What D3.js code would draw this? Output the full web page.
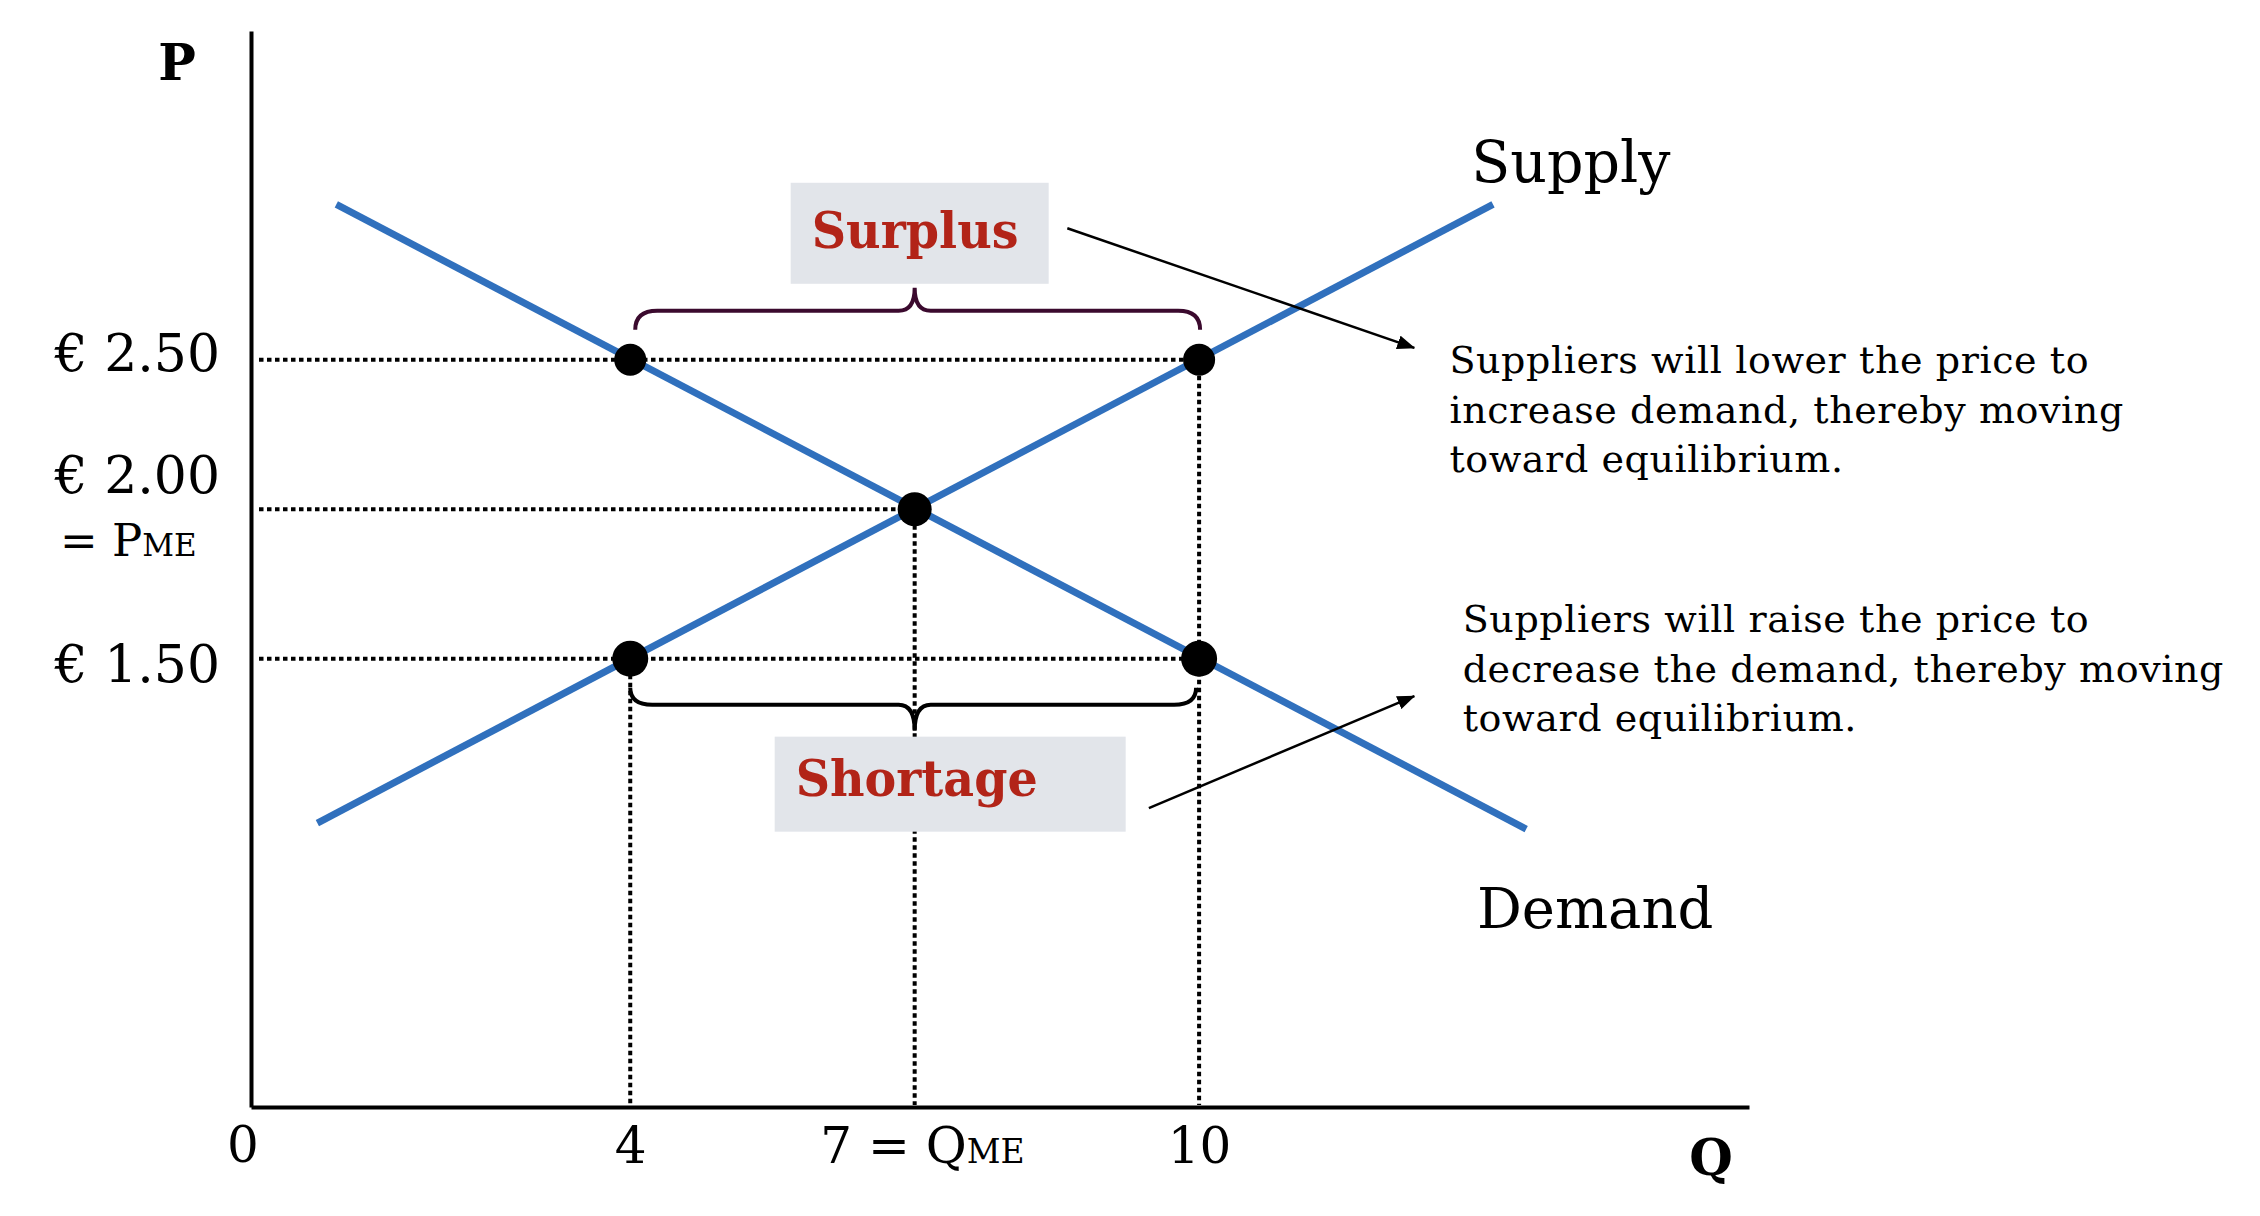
<!DOCTYPE html>
<html>
<head>
<meta charset="utf-8">
<script src="https://cdn.jsdelivr.net/npm/d3@7"></script>
<style>
  body { margin: 0; background: #fff; }
  svg { display: block; font-family: "DejaVu Serif", serif; }
  .guide { stroke: #000; stroke-width: 4; stroke-dasharray: 4.5 3.5; fill: none; }
  .curve { stroke: #3070bd; stroke-width: 7; fill: none; }
  .axis path { stroke: #000; stroke-width: 4; }
  .axis text { font-family: "DejaVu Serif", serif; fill: #000; }
</style>
</head>
<body>
<svg width="2260" height="1216"></svg>
<script>
// quantities and prices shown on the axes
const Q_TICKS = [4, 7, 10]
const P_TICKS = [1.5, 2.0, 2.5]
const P_LABELS = ['€ 1.50', '€ 2.00', '€ 2.50']

// the two curves (q, p)
const SUPPLY = [[0.7, 0.95], [13.1, 3.02]]
const DEMAND = [[0.9, 3.02], [13.45, 0.93]]

// marked points on the curves
const POINTS = [[4, 2.5], [10, 2.5], [7, 2.0], [4, 1.5], [10, 1.5]]

// dotted guides: [price, q where it stops] and [q, price where it starts]
const H_GUIDES = [[2.5, 10], [2.0, 7], [1.5, 10]]
const V_GUIDES = [[4, 1.5], [7, 2.0], [10, 2.5]]

const NOTE_LOWER = ['Suppliers will lower the price to', 'increase demand, thereby moving', 'toward equilibrium.']
const NOTE_RAISE = ['Suppliers will raise the price to', 'decrease the demand, thereby moving', 'toward equilibrium.']

const svg = d3.select('svg')

const x = d3.scaleLinear().domain([0, 15.8]).range([251, 1749])
const y = d3.scaleLinear().domain([0, 3.6]).range([1107, 31])

const line = d3.line()
  .x(d => x(d[0]))
  .y(d => y(d[1]))

svg.append('defs').append('marker')
  .attr('id', 'head')
  .attr('viewBox', '0 0 18 14')
  .attr('refX', 17).attr('refY', 7)
  .attr('markerWidth', 18).attr('markerHeight', 14)
  .attr('markerUnits', 'userSpaceOnUse')
  .attr('orient', 'auto')
  .append('path')
  .attr('d', 'M0,0 L18,7 L0,14 Z')
  .attr('fill', '#000')

// axes
const xAxis = svg.append('g')
  .attr('class', 'axis')
  .attr('transform', `translate(0,${y(0)})`)
  .call(d3.axisBottom(x).tickValues(Q_TICKS).tickSize(0).tickSizeOuter(0).tickPadding(20)
    .tickFormat(d => d))
xAxis.selectAll('.tick text').style('font-size', '50px')
xAxis.selectAll('.tick').filter(d => d === 7).select('text')
  .text(null)
  .attr('text-anchor', 'start')
  .attr('x', -95)
  .call(t => {
    t.append('tspan').text('7 = Q')
    t.append('tspan').text('ME').style('font-size', '33px')
  })

const yAxis = svg.append('g')
  .attr('class', 'axis')
  .attr('transform', `translate(${x(0)},0)`)
  .call(d3.axisLeft(y).tickValues(P_TICKS).tickSize(0).tickSizeOuter(0).tickPadding(31)
    .tickFormat((d, i) => P_LABELS[i]))
const labelShift = { 1.5: 23, 2: -17, 2.5: 11 }
yAxis.selectAll('.tick text')
  .style('font-size', '52px')
  .attr('dy', null)
  .attr('y', d => labelShift[d])
yAxis.selectAll('.tick').filter(d => d === 2).append('text')
  .attr('x', -191).attr('y', 46)
  .attr('text-anchor', 'start')
  .style('font-size', '45px')
  .call(t => {
    t.append('tspan').text('= P')
    t.append('tspan').text('ME').style('font-size', '31px')
  })

svg.append('text')
  .attr('x', x(0) - 8).attr('y', 1162)
  .attr('text-anchor', 'middle')
  .style('font-size', '50px')
  .text('0')

svg.append('text')
  .attr('x', x(0) - 74).attr('y', 80)
  .attr('text-anchor', 'middle')
  .style('font-size', '50px').style('font-weight', 'bold')
  .text('P')

svg.append('text')
  .attr('x', x(15.4)).attr('y', 1175)
  .attr('text-anchor', 'middle')
  .style('font-size', '50px').style('font-weight', 'bold')
  .text('Q')

// dotted guides
svg.append('g').selectAll('line.h')
  .data(H_GUIDES)
  .join('line')
  .attr('class', 'guide')
  .attr('x1', x(0) + 8).attr('x2', d => x(d[1]))
  .attr('y1', d => y(d[0])).attr('y2', d => y(d[0]))

svg.append('g').selectAll('line.v')
  .data(V_GUIDES)
  .join('line')
  .attr('class', 'guide')
  .attr('x1', d => x(d[0])).attr('x2', d => x(d[0]))
  .attr('y1', d => y(d[1])).attr('y2', y(0) - 2)

// label boxes
const x7 = x(7)
svg.append('rect')
  .attr('x', x7 - 124).attr('y', y(2.5) - 177)
  .attr('width', 258).attr('height', 101)
  .attr('fill', '#e2e5ea')
svg.append('rect')
  .attr('x', x7 - 140).attr('y', y(1.5) + 78)
  .attr('width', 351).attr('height', 95)
  .attr('fill', '#e2e5ea')

svg.append('text')
  .attr('x', x7 - 103).attr('y', y(2.5) - 112)
  .attr('textLength', 207).attr('lengthAdjust', 'spacingAndGlyphs')
  .style('font-size', '51px').style('font-weight', 'bold')
  .attr('fill', '#b22418')
  .text('Surplus')
svg.append('text')
  .attr('x', x7 - 119).attr('y', y(1.5) + 137)
  .attr('textLength', 242).attr('lengthAdjust', 'spacingAndGlyphs')
  .style('font-size', '51px').style('font-weight', 'bold')
  .attr('fill', '#b22418')
  .text('Shortage')

// braces
function brace(x1, x2, yEnd, yBar, yTip, xc) {
  const p = d3.path(), r = 22, rc = 16
  p.moveTo(x1, yEnd)
  p.quadraticCurveTo(x1, yBar, x1 + r, yBar)
  p.lineTo(xc - rc, yBar)
  p.quadraticCurveTo(xc, yBar, xc, yTip)
  p.quadraticCurveTo(xc, yBar, xc + rc, yBar)
  p.lineTo(x2 - r, yBar)
  p.quadraticCurveTo(x2, yBar, x2, yEnd)
  return p.toString()
}
svg.append('path')
  .attr('d', brace(x(4) + 5, x(10) + 1, y(2.5) - 30, y(2.5) - 49, y(2.5) - 72, x7))
  .attr('fill', 'none').attr('stroke', '#3b0a2e').attr('stroke-width', 4)
svg.append('path')
  .attr('d', brace(x(4), x(10) - 3, y(1.5) + 29, y(1.5) + 46, y(1.5) + 72, x7))
  .attr('fill', 'none').attr('stroke', '#000').attr('stroke-width', 4)

// supply and demand
svg.append('g').selectAll('path')
  .data([SUPPLY, DEMAND])
  .join('path')
  .attr('class', 'curve')
  .attr('d', line)

// arrows from the boxes to the notes
svg.append('line')
  .attr('x1', x(8.61)).attr('y1', y(2.94))
  .attr('x2', x(12.27)).attr('y2', y(2.54))
  .attr('stroke', '#000').attr('stroke-width', 2.5)
  .attr('marker-end', 'url(#head)')
svg.append('line')
  .attr('x1', x(9.47)).attr('y1', y(1.0))
  .attr('x2', x(12.27)).attr('y2', y(1.375))
  .attr('stroke', '#000').attr('stroke-width', 2.5)
  .attr('marker-end', 'url(#head)')

// points
svg.append('g').selectAll('circle')
  .data(POINTS)
  .join('circle')
  .attr('cx', d => x(d[0]))
  .attr('cy', d => y(d[1]))
  .attr('r', d => d[1] === 1.5 ? 18 : d[1] === 2 ? 17 : 16)
  .attr('fill', '#000')

// curve names
svg.append('text')
  .attr('x', x(12.87)).attr('y', 182)
  .style('font-size', '57px')
  .text('Supply')
svg.append('text')
  .attr('x', x(12.93)).attr('y', 928)
  .style('font-size', '56px')
  .text('Demand')

// notes
function note(lines, left, top) {
  svg.append('text')
    .attr('x', left).attr('y', top)
    .style('font-size', '38px')
    .style('letter-spacing', '0.6px')
    .selectAll('tspan')
    .data(lines)
    .join('tspan')
    .attr('x', left)
    .attr('dy', (d, i) => i ? 49.5 : 0)
    .text(d => d)
}
note(NOTE_LOWER, x(12.64), 373)
note(NOTE_RAISE, x(12.78), 632)
</script>
</body>
</html>
